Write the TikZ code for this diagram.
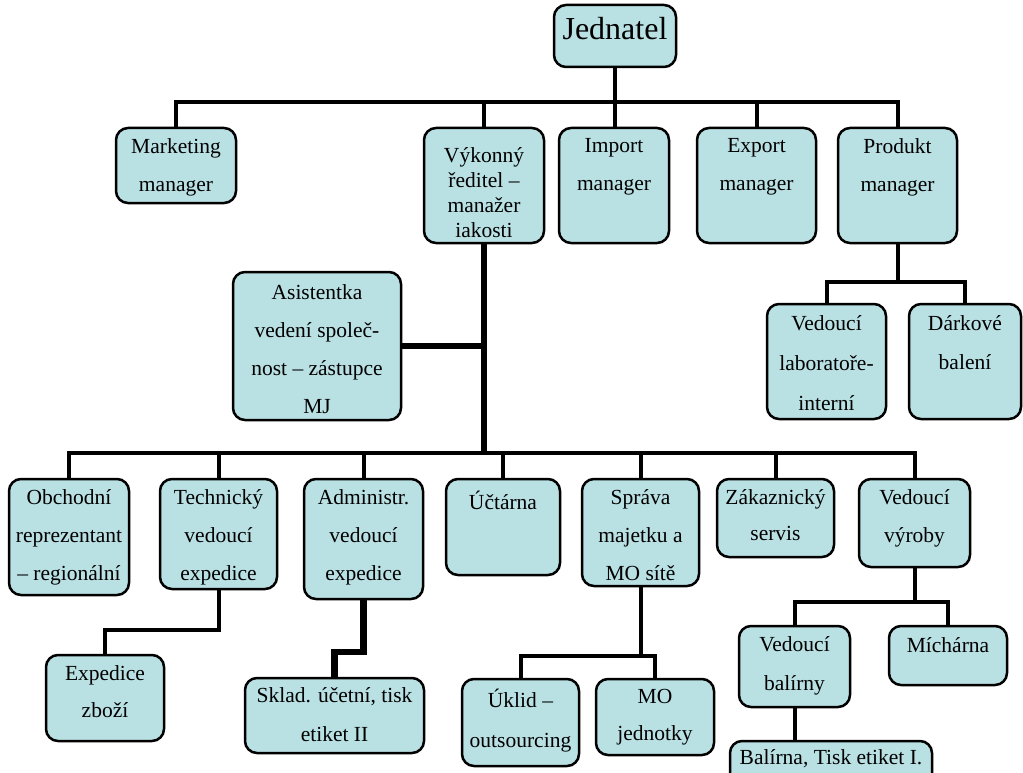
\documentclass[tikz,border=0pt]{standalone}
\usepackage{fontspec}
\setmainfont{Liberation Serif}

\definecolor{boxfill}{RGB}{185,224,227}

\begin{document}
\begin{tikzpicture}[
  x=1pt, y=-1pt,
  font=\fontsize{21.5}{38}\selectfont,
  orgunit/.style={draw, rounded corners=12pt, fill=boxfill, line width=2.5pt, inner sep=0pt},
  lbl/.style={anchor=north, align=center, inner sep=11.5pt, execute at begin node={\rule{0pt}{20pt}}},
  line/.style={-, line width=4pt},
  thickline/.style={-, line width=6.5pt}]

  \useasboundingbox (0,0) rectangle (1023,773);

  % bus levels of the tree
  \coordinate (topbus) at (0,102);
  \coordinate (prodbus) at (0,282);
  \coordinate (lowbus) at (0,453);
  \coordinate (techbus) at (0,630);
  \coordinate (admbus) at (0,652);
  \coordinate (spbus) at (0,656);
  \coordinate (vybus) at (0,602);

  % top
  \node[orgunit, minimum width=122, minimum height=62,
    label={[lbl, font=\fontsize{32}{38}\selectfont, yshift=-2pt]north:Jednatel}] (jednatel) at (615,36) {};

  % first level
  \node[orgunit, minimum width=120, minimum height=75,
    label={[lbl]north:{Marketing\\manager}}] (marketing) at (176,165.5) {};
  \node[orgunit, minimum width=120, minimum height=115,
    label={[lbl, font=\fontsize{21.5}{25}\selectfont, yshift=-9pt]north:{Výkonný\\ředitel –\\manažer\\iakosti}}] (vykonny) at (484,185.5) {};
  \node[orgunit, minimum width=110, minimum height=115,
    label={[lbl]north:{Import\\manager}}] (import) at (614,185.5) {};
  \node[orgunit, minimum width=119, minimum height=115,
    label={[lbl]north:{Export\\manager}}] (export) at (756.5,185.5) {};
  \node[orgunit, minimum width=119, minimum height=115,
    label={[lbl]north:{Produkt\\manager}}] (produkt) at (897.5,185.5) {};

  % under Produkt manager
  \node[orgunit, minimum width=119, minimum height=115,
    label={[lbl, font=\fontsize{21.5}{40}\selectfont, yshift=-1pt]north:{Vedoucí\\laboratoře-\\interní}}] (lab) at (826.5,361.5) {};
  \node[orgunit, minimum width=112, minimum height=115,
    label={[lbl, font=\fontsize{21.5}{39}\selectfont, yshift=-1pt]north:{Dárkové\\balení}}] (darkove) at (965,361.5) {};

  % under Vykonny reditel
  \node[orgunit, minimum width=168, minimum height=148,
    label={[lbl, yshift=-2pt]north:{Asistentka\\vedení společ-\\nost – zástupce\\MJ}}] (asistentka) at (317,346) {};

  \node[orgunit, minimum width=120, minimum height=116,
    label={[lbl]north:{Obchodní\\reprezentant\\– regionální}}] (obchodni) at (69,537) {};
  \node[orgunit, minimum width=117, minimum height=110,
    label={[lbl]north:{Technický\\vedoucí\\expedice}}] (technicky) at (218.5,534) {};
  \node[orgunit, minimum width=119, minimum height=120,
    label={[lbl]north:{Administr.\\vedoucí\\expedice}}] (administr) at (363.5,539) {};
  \node[orgunit, minimum width=114, minimum height=96,
    label={[lbl]north:Účtárna}] (uctarna) at (503,527) {};
  \node[orgunit, minimum width=117, minimum height=107,
    label={[lbl]north:{Správa\\majetku a\\MO sítě}}] (sprava) at (640.5,532.5) {};
  \node[orgunit, minimum width=117, minimum height=78,
    label={[lbl, font=\fontsize{21.5}{36}\selectfont]north:{Zákaznický\\servis}}] (zakaznicky) at (775.5,518) {};
  \node[orgunit, minimum width=111, minimum height=88,
    label={[lbl]north:{Vedoucí\\výroby}}] (vyroby) at (914.5,523) {};

  % lowest level
  \node[orgunit, minimum width=118, minimum height=86,
    label={[lbl, font=\fontsize{21.5}{37}\selectfont]north:{Expedice\\zboží}}] (expedice) at (105,698) {};
  \node[orgunit, minimum width=179, minimum height=75,
    label={[lbl, font=\fontsize{21.5}{39}\selectfont, yshift=1pt]north:{Sklad. účetní, tisk\\etiket II}}] (sklad) at (334.5,715.5) {};
  \node[orgunit, minimum width=117, minimum height=87,
    label={[lbl, font=\fontsize{21.5}{40}\selectfont]north:{Úklid –\\outsourcing}}] (uklid) at (520.5,722.5) {};
  \node[orgunit, minimum width=118, minimum height=76,
    label={[lbl, font=\fontsize{21.5}{37}\selectfont]north:{MO\\jednotky}}] (mo) at (655,717) {};
  \node[orgunit, minimum width=111, minimum height=81,
    label={[lbl, font=\fontsize{21.5}{39}\selectfont]north:{Vedoucí\\balírny}}] (balirny) at (794.5,666.5) {};
  \node[orgunit, minimum width=118, minimum height=59,
    label={[lbl, yshift=4pt]north:Míchárna}] (michrna) at (948,655.5) {};
  \node[orgunit, minimum width=202, minimum height=48,
    label={[lbl, yshift=7pt]north:{Balírna, Tisk etiket I.}}] (balirna) at (831,765) {};

  % connectors
  \draw[line] (jednatel.south) -- (jednatel.south |- import.north);
  \draw[line] (marketing.north) |- (produkt.north |- topbus) -- (produkt.north);
  \foreach \n in {vykonny, export}
    \draw[line] (\n.north) -- (\n.north |- topbus);

  \draw[line] (produkt.south) -- (produkt.south |- prodbus);
  \draw[line] (lab.north) |- (darkove.north |- prodbus) -- (darkove.north);

  \draw[thickline] (vykonny.south) -- (vykonny.south |- lowbus);
  \draw[line, line width=5.5pt] (asistentka.east) -- (asistentka.east -| vykonny.south);
  \draw[line] (obchodni.north) |- (vyroby.north |- lowbus) -- (vyroby.north);
  \foreach \n in {technicky, administr, uctarna, sprava, zakaznicky}
    \draw[line] (\n.north) -- (\n.north |- lowbus);

  \draw[line] (technicky.south) -- (technicky.south |- techbus) -| (expedice.north);
  \draw[thickline] (administr.south) -- (administr.south |- admbus) -| (sklad.north);
  \draw[line] (sprava.south) -- (sprava.south |- spbus);
  \draw[line] (uklid.north) |- (mo.north |- spbus) -- (mo.north);
  \draw[line] (vyroby.south) -- (vyroby.south |- vybus);
  \draw[line] (balirny.north) |- (michrna.north |- vybus) -- (michrna.north);
  \draw[line] (balirny.south) -- (balirny.south |- balirna.north);

\end{tikzpicture}
\end{document}
